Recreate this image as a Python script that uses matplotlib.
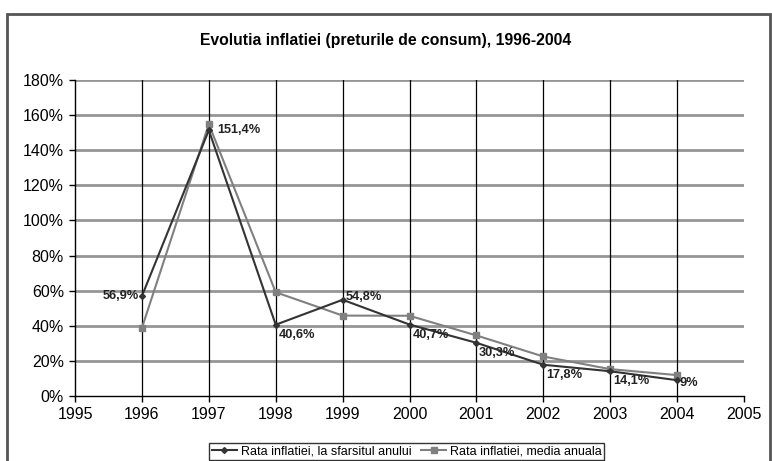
import matplotlib.pyplot as plt
import matplotlib.patches as mpatches
from matplotlib.ticker import FuncFormatter

plt.rcParams['font.family'] = ['Liberation Sans', 'DejaVu Sans']

# data
years = [1996, 1997, 1998, 1999, 2000, 2001, 2002, 2003, 2004]
end_of_year = [56.9, 151.4, 40.6, 54.8, 40.7, 30.3, 17.8, 14.1, 9.0]
annual_avg = [38.8, 154.8, 59.1, 45.8, 45.7, 34.5, 22.5, 15.3, 11.9]
point_labels = ["56,9%", "151,4%", "40,6%", "54,8%", "40,7%", "30,3%", "17,8%", "14,1%", "9%"]

fig = plt.figure(figsize=(7.72, 4.61), dpi=100)
ax = fig.add_axes([0.0972, 0.141, 0.8665, 0.6855])

# outer frame
fig.patches.append(mpatches.Rectangle((7 / 772, -0.05), 763 / 772, (461 - 14) / 461 + 0.05,
                                      transform=fig.transFigure, fill=False,
                                      edgecolor="#555555", linewidth=2, clip_on=False))

ax.plot(years, end_of_year, color="#333333", lw=1.5, marker="D", ms=3,
        label="Rata inflatiei, la sfarsitul anului", zorder=4)
ax.plot(years, annual_avg, color="#808080", lw=1.5, marker="s", ms=4,
        label="Rata inflatiei, media anuala", zorder=3)

# point labels: (dx, dy, ha, va) in points
offsets = [(-2, 0, "right", "center"), (6, 0, "left", "center"), (2, -3, "left", "top"),
           (2, 2, "left", "center"), (2, -3, "left", "top"), (2, -3, "left", "top"),
           (2, -3, "left", "top"), (2, -3, "left", "top"), (2, -2, "left", "center")]
for x, y, t, (dx, dy, ha, va) in zip(years, end_of_year, point_labels, offsets):
    ax.annotate(t, (x, y), xytext=(dx, dy), textcoords="offset points",
                ha=ha, va=va, fontsize=9.2, fontweight="bold", color="#222222", zorder=5)

ax.set_xlim(1995, 2005)
ax.set_ylim(0, 180)
ax.set_xticks(range(1995, 2006))
ax.set_yticks(range(0, 181, 20))
ax.yaxis.set_major_formatter(FuncFormatter(lambda v, p: f"{int(v)}%"))
ax.tick_params(labelsize=11.5, length=4, width=1, colors="black", pad=4)

for y in range(20, 181, 20):
    ax.axhline(y, color="#969696", lw=2, zorder=1)
for x in range(1996, 2005):
    ax.axvline(x, color="black", lw=0.9, zorder=1)

for s in ["top", "right"]:
    ax.spines[s].set_visible(False)
ax.spines["left"].set_linewidth(1)
ax.spines["bottom"].set_linewidth(1)

fig.text(0.5, 1 - 40 / 461, "Evolutia inflatiei (preturile de consum), 1996-2004",
         ha="center", va="center", fontsize=11.3, fontweight="bold")

leg = fig.legend(loc="upper center", bbox_to_anchor=(0.527, 0.04), ncol=2,
                 fontsize=9, frameon=True, fancybox=False, handlelength=2.0,
                 handletextpad=0.3, columnspacing=0.8, borderpad=0.2, borderaxespad=0)
leg.get_frame().set_edgecolor("black")
leg.get_frame().set_linewidth(1)

fig.savefig("out.png", dpi=100)
